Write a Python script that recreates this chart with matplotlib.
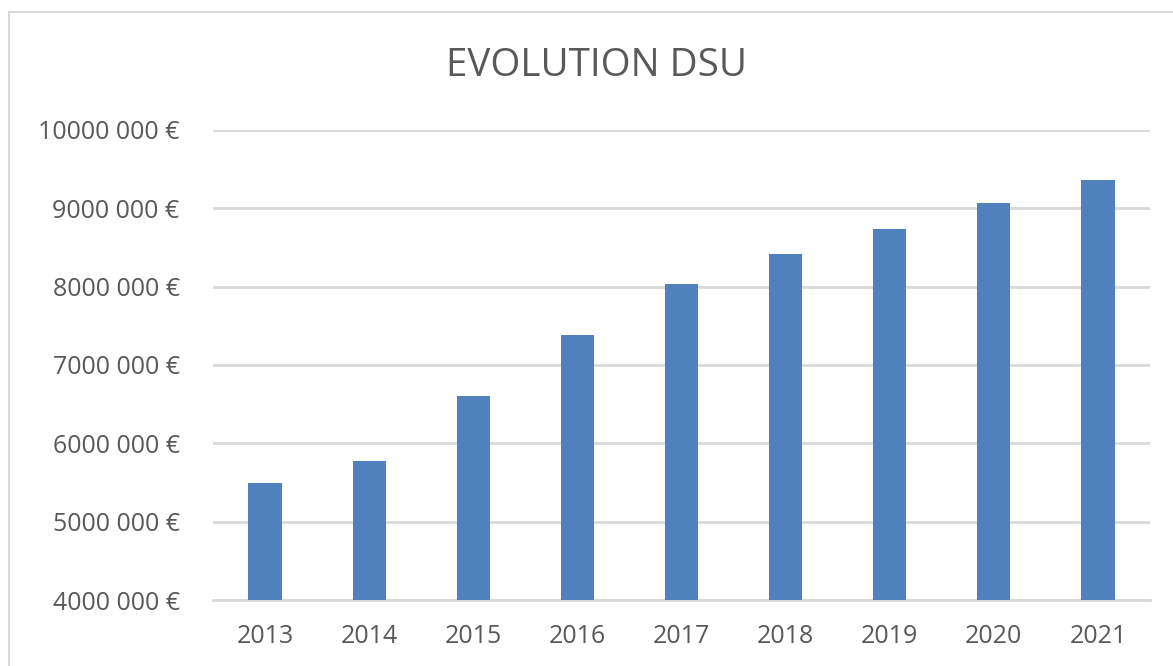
import matplotlib
matplotlib.use('Agg')
import matplotlib.pyplot as plt
from matplotlib.patches import Rectangle
from matplotlib.ticker import FuncFormatter

years = ['2013', '2014', '2015', '2016', '2017', '2018', '2019', '2020', '2021']
dsu = [5500000, 5770000, 6610000, 7380000, 8030000, 8420000, 8730000, 9070000, 9360000]
y_ticks = [4000000, 5000000, 6000000, 7000000, 8000000, 9000000, 10000000]

plt.rcParams['font.family'] = ['Open Sans', 'DejaVu Sans']
text_color = '#595959'
grid_color = '#D9D9D9'


def euro(v, pos):
    v = int(round(v))
    return '%d %03d €' % (v // 1000, v % 1000)


fig = plt.figure(figsize=(11.73, 6.66), dpi=100)
fig.patches.append(Rectangle((9 / 1173, -0.1), 1.2, 1.1 - 12 / 666, transform=fig.transFigure,
                             fill=False, edgecolor=grid_color, linewidth=1.5))

ax = fig.add_axes([213 / 1173, 1 - 600 / 666, (1150 - 213) / 1173, (600 - 130) / 666])
x = range(len(years))
ax.bar(x, dsu, width=0.32, color='#4F81BD', zorder=3)
ax.set_xlim(-0.5, len(years) - 0.5)
ax.set_ylim(y_ticks[0], y_ticks[-1])
ax.set_yticks(y_ticks)
ax.yaxis.set_major_formatter(FuncFormatter(euro))
ax.set_xticks(list(x))
ax.set_xticklabels(years)
ax.grid(axis='y', color=grid_color, linewidth=2, zorder=0)
for s in ['top', 'right', 'left']:
    ax.spines[s].set_visible(False)
ax.spines['bottom'].set_color(grid_color)
ax.spines['bottom'].set_linewidth(2)
ax.tick_params(axis='both', length=0, colors=text_color, labelsize=18)
ax.tick_params(axis='y', pad=24)
ax.tick_params(axis='x', pad=17)

fig.text(597 / 1173, 1 - 66 / 666, 'EVOLUTION DSU', ha='center', va='center',
         fontsize=27.7, color=text_color)

fig.savefig('out.png', dpi=100)
